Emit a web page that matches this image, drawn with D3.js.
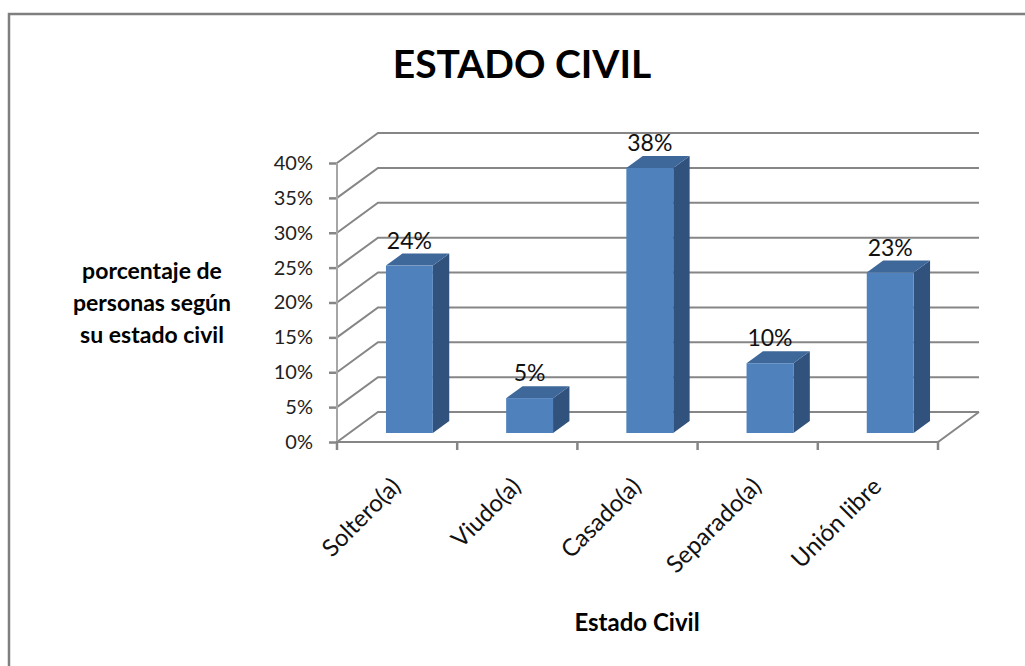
<!DOCTYPE html>
<html lang="es">
<head>
<meta charset="utf-8">
<style>
  body { margin: 0; background: white; }
  svg { display: block; font-family: Lato, "Open Sans", sans-serif; }
  .grid { stroke: #868686; stroke-width: 2px; fill: none; }
  .axisline { stroke: #a6a6a6; stroke-width: 2px; fill: none; }
  .tick-lbl { font-size: 20px; fill: #222; }
  .cat-lbl { font-size: 24px; fill: #111; }
  .val-lbl { font-size: 23px; fill: #111; }
  .ttl { font-size: 39px; font-weight: bold; }
  .axttl { font-size: 23px; font-weight: bold; }
</style>
<script src="https://d3js.org/d3.v7.min.js"></script>
</head>
<body>
<script>
// data
var categories = ["Soltero(a)", "Viudo(a)", "Casado(a)", "Separado(a)", "Unión libre"];
var values = [0.24, 0.05, 0.38, 0.10, 0.23];
var valueLabels = ["24%", "5%", "38%", "10%", "23%"];
var yTicks = [0, 0.05, 0.10, 0.15, 0.20, 0.25, 0.30, 0.35, 0.40];

var width = 1025, height = 666;
var svg = d3.select("body").append("svg")
  .attr("width", width)
  .attr("height", height);

// outer frame (only left/top visible)
svg.append("path")
  .attr("d", "M9,700 L9,14 L1100,14")
  .attr("fill", "none")
  .attr("stroke", "#7f7f7f")
  .attr("stroke-width", 2.5);

var x = d3.scaleBand().domain(categories).range([337, 938]);
var y = d3.scaleLinear().domain([0, 0.4]).range([442, 163]);
var dx = 41, dy = -30;          // depth of the box
var d0 = 0.3, d1 = 0.7;         // bar position inside the depth
var barW = x.bandwidth() * 0.39;

var g = svg.append("g");

// back wall gridlines + left wall diagonals
g.selectAll(".bgrid").data(yTicks).enter().append("path")
  .attr("class", "grid")
  .attr("d", function(t) {
    var yy = y(t);
    return "M" + x.range()[0] + "," + yy + " L" + (x.range()[0] + dx) + "," + (yy + dy) +
           " L" + (x.range()[1] + dx) + "," + (yy + dy);
  });

// floor
g.append("path").attr("class", "grid")
  .attr("d", "M" + x.range()[0] + "," + y(0) + " L" + x.range()[1] + "," + y(0) +
             " L" + (x.range()[1] + dx) + "," + (y(0) + dy));

// bars
var bars = g.selectAll(".bar").data(values).enter().append("g").attr("class", "bar");
function bx(i) { return x(categories[i]) + (x.bandwidth() - barW) / 2 + d0 * dx; }
function by(v) { return y(v) + d0 * dy; }
var ddx = (d1 - d0) * dx, ddy = (d1 - d0) * dy;

bars.append("path") // side
  .attr("fill", "#31527c")
  .attr("d", function(v, i) {
    var l = bx(i) + barW, t = by(v), b = by(0);
    return "M" + l + "," + t + " L" + (l + ddx) + "," + (t + ddy) + " L" + (l + ddx) + "," + (b + ddy) +
           " L" + l + "," + b + "Z";
  });
bars.append("path") // top
  .attr("fill", "#3e679a")
  .attr("d", function(v, i) {
    var l = bx(i), t = by(v);
    return "M" + l + "," + t + " L" + (l + ddx) + "," + (t + ddy) + " L" + (l + barW + ddx) + "," + (t + ddy) +
           " L" + (l + barW) + "," + t + "Z";
  });
bars.append("rect") // front
  .attr("fill", "#4f81bd")
  .attr("x", function(v, i) { return bx(i); })
  .attr("y", function(v) { return by(v); })
  .attr("width", barW)
  .attr("height", function(v) { return by(0) - by(v); });

// value labels
bars.append("text")
  .attr("class", "val-lbl")
  .attr("text-anchor", "middle")
  .attr("x", function(v, i) { return bx(i) + barW / 2; })
  .attr("y", function(v) { return y(v) + d1 * dy - 5; })
  .text(function(v, i) { return valueLabels[i]; });

// front y axis
var yAxis = d3.axisLeft(y).tickValues(yTicks).tickSize(8).tickPadding(16)
  .tickFormat(d3.format(".0%"));
var ya = svg.append("g").attr("transform", "translate(337,0)").call(yAxis)
  .attr("font-family", null).attr("font-size", null);
ya.select(".domain").remove();
ya.selectAll(".tick line").attr("stroke", "#868686").attr("stroke-width", 2.5);
ya.selectAll(".tick text").attr("class", "tick-lbl").attr("fill", null);
svg.append("line").attr("class", "axisline")
  .attr("x1", 337).attr("x2", 337).attr("y1", y(0.4)).attr("y2", y(0) + 1);

// front x axis
svg.append("line").attr("class", "grid")
  .attr("x1", 336).attr("x2", 938).attr("y1", y(0)).attr("y2", y(0));
var bounds = categories.map(function(c) { return x(c); }).concat([x.range()[1]]);
svg.selectAll(".xtick").data(bounds).enter().append("line")
  .attr("stroke", "#868686").attr("stroke-width", 2.5)
  .attr("x1", function(d) { return d; }).attr("x2", function(d) { return d; })
  .attr("y1", y(0)).attr("y2", y(0) + 8);

svg.selectAll(".cat").data(categories).enter().append("text")
  .attr("class", "cat-lbl")
  .attr("text-anchor", "end")
  .attr("transform", function(c) {
    return "translate(" + (x(c) + x.bandwidth() / 2 + 5) + "," + (y(0) + 46) + ") rotate(-45)";
  })
  .text(function(c) { return c; });

// titles
svg.append("text").attr("class", "ttl").attr("text-anchor", "middle")
  .attr("x", 522).attr("y", 78).text("ESTADO CIVIL");

svg.append("text").attr("class", "axttl").attr("text-anchor", "middle")
  .attr("x", 637).attr("y", 631).style("font-size", "24px").text("Estado Civil");

var ylines = ["porcentaje de", "personas según", "su estado civil"];
svg.append("text").attr("class", "axttl").attr("text-anchor", "middle")
  .selectAll("tspan").data(ylines).enter().append("tspan")
  .attr("x", 152)
  .attr("y", function(d, i) { return 279 + i * 32; })
  .text(function(d) { return d; });
</script>
</body>
</html>
